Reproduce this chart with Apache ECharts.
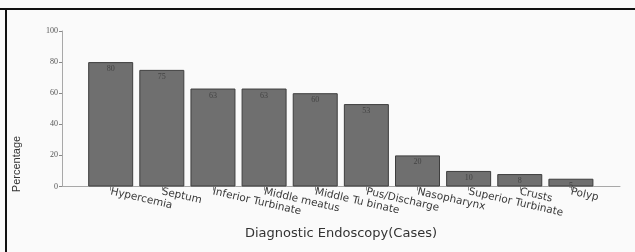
<!DOCTYPE html>
<html>
<head>
<meta charset="utf-8">
<script src="https://cdn.jsdelivr.net/npm/echarts@6/dist/echarts.min.js"></script>
<style>
  html, body { margin: 0; padding: 0; background: #fff; }
  #chart { width: 635px; height: 252px; }
</style>
</head>
<body>
<div id="chart"></div>
<script>
var categories = ['Hypercemia', 'Septum', 'Inferior Turbinate', 'Middle meatus', 'Middle Tu binate',
                  'Pus/Discharge', 'Nasopharynx', 'Superior Turbinate', 'Crusts', 'Polyp'];
var percentages = [80, 75, 63, 63, 60, 53, 20, 10, 8, 5];
var yTicks = [0, 20, 40, 60, 80, 100];

var chart = echarts.init(document.getElementById('chart'));

// bars sit on a value axis so the baseline can run past the first and last bar
var barData = percentages.map(function (v, i) { return [i, v]; });
var positions = categories.map(function (c, i) { return i; });

var option = {
    backgroundColor: '#fafafa',
    animation: false,
    grid: { left: 62, right: 15, top: 31, bottom: 65.5 },
    xAxis: {
        type: 'value',
        min: -0.952,
        max: 9.96,
        splitLine: { show: false },
        axisLine: { show: true, onZero: false, lineStyle: { color: '#a8a8a8', width: 1 } },
        axisTick: { show: true, customValues: positions, length: 4, lineStyle: { color: '#888' } },
        axisLabel: {
            customValues: positions,
            rotate: -13,
            margin: 5,
            fontFamily: 'DejaVu Sans',
            fontSize: 10.5,
            color: '#3a3a3a',
            formatter: function (v) { return categories[Math.round(v)]; }
        },
        name: 'Diagnostic Endoscopy(Cases)',
        nameLocation: 'middle',
        nameGap: 41,
        nameTextStyle: { fontFamily: 'DejaVu Sans', fontSize: 13, color: '#333' }
    },
    yAxis: {
        type: 'value',
        min: 0,
        max: 100,
        interval: 20,
        splitLine: { show: false },
        axisLine: { show: true, onZero: false, lineStyle: { color: '#a8a8a8', width: 1 } },
        axisTick: { show: true, length: 3, lineStyle: { color: '#888' } },
        axisLabel: {
            margin: 4,
            fontFamily: 'Liberation Serif',
            fontSize: 8,
            color: '#555',
            formatter: function (v) { return yTicks.indexOf(v) >= 0 ? String(v) : ''; }
        }
    },
    series: [{
        type: 'bar',
        data: barData,
        barWidth: 45,
        itemStyle: { color: '#6f6f6f', borderColor: '#3e3e3e', borderWidth: 1 },
        label: {
            show: true,
            position: 'insideTop',
            distance: 3,
            fontFamily: 'Liberation Serif',
            fontSize: 8,
            color: '#444',
            formatter: function (p) { return p.value[1]; }
        }
    }],
    graphic: [
        { type: 'rect', shape: { x: 0, y: 8, width: 635, height: 2 }, style: { fill: '#111' } },
        { type: 'rect', shape: { x: 5, y: 8, width: 2, height: 244 }, style: { fill: '#111' } },
        {
            type: 'text', x: 17, y: 164, rotation: Math.PI / 2,
            style: {
                text: 'Percentage', fontFamily: 'Liberation Sans Narrow, Liberation Sans',
                fontSize: 11, fill: '#333', align: 'center', verticalAlign: 'middle'
            }
        }
    ]
};
chart.setOption(option);
</script>
</body>
</html>
